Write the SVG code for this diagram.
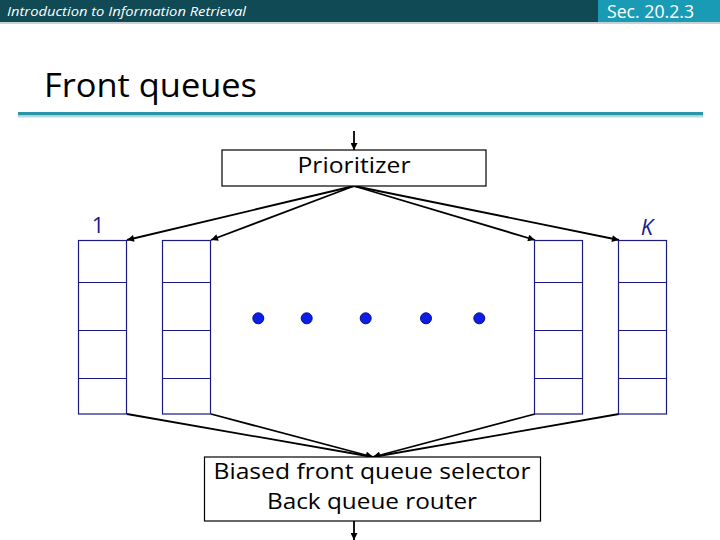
<svg xmlns="http://www.w3.org/2000/svg" width="720" height="540" viewBox="0 0 720 540">
<defs>
<marker id="ah" viewBox="0 0 10 10" refX="10" refY="5" markerWidth="9" markerHeight="7" markerUnits="userSpaceOnUse" orient="auto">
<path d="M0,0 L10,5 L0,10 z" fill="#000"/>
</marker>
</defs>
<style>
.q{fill:#fff;stroke:#1a1a80;stroke-width:1.2}
.dv{stroke:#1a1a80;stroke-width:1.2}
.box{fill:#fff;stroke:#000;stroke-width:1.2}
.lbl{font-family:"Open Sans","DejaVu Sans",sans-serif;font-size:22px;fill:#000;text-anchor:middle}
.c{stroke:#000;stroke-width:1.8;fill:none;marker-end:url(#ah)}
.dot{fill:#0a1ee6;stroke:#0a0a90;stroke-width:1}
</style>
<rect width="720" height="540" fill="#fff"/>
<g id="header">
<rect x="0" y="0" width="598" height="22" fill="#0f4a55"/>
<rect x="598" y="0" width="122" height="22" fill="#1a9bb5"/>
<rect x="0" y="22" width="720" height="2" fill="#c8d2d4"/>
<text x="7" y="16" font-family="Open Sans,DejaVu Sans,sans-serif" font-style="italic" font-size="13" fill="#fff" textLength="239" lengthAdjust="spacingAndGlyphs">Introduction to Information Retrieval</text>
<text x="607" y="18" font-family="Open Sans,DejaVu Sans,sans-serif" font-size="18" fill="#fff" textLength="87" lengthAdjust="spacingAndGlyphs">Sec. 20.2.3</text>
</g>
<g id="title">
<text x="44" y="97" font-family="Open Sans,DejaVu Sans,sans-serif" font-size="32" fill="#000" textLength="213" lengthAdjust="spacingAndGlyphs">Front queues</text>
<rect x="18" y="112" width="685" height="3.5" fill="#2a95a8"/>
<rect x="18" y="115.5" width="685" height="2" fill="#b5dbe2"/>
</g>
<g id="connectors">
<line class="c" x1="354" y1="131" x2="354" y2="150"/>
<line class="c" x1="354" y1="186" x2="127" y2="240"/>
<line class="c" x1="354" y1="186" x2="211" y2="240"/>
<line class="c" x1="354" y1="186" x2="535" y2="240"/>
<line class="c" x1="354" y1="186" x2="619" y2="240"/>
<line class="c" x1="127" y1="414" x2="373" y2="457"/>
<line class="c" x1="211" y1="414" x2="373" y2="457"/>
<line class="c" x1="535" y1="414" x2="373" y2="457"/>
<line class="c" x1="619" y1="414" x2="373" y2="457"/>
<line class="c" x1="354" y1="521" x2="354" y2="540"/>
</g>
<g id="prioritizer">
<rect class="box" x="222" y="150" width="264" height="36"/>
<text class="lbl" x="354" y="173" textLength="113" lengthAdjust="spacingAndGlyphs">Prioritizer</text>
</g>
<g id="queue1">
<rect class="q" x="78.5" y="240.5" width="48" height="173.5"/>
<line class="dv" x1="78.5" y1="282.5" x2="126.5" y2="282.5"/>
<line class="dv" x1="78.5" y1="330.5" x2="126.5" y2="330.5"/>
<line class="dv" x1="78.5" y1="378.5" x2="126.5" y2="378.5"/>
<text x="98" y="233" font-family="Open Sans,DejaVu Sans,sans-serif" font-size="22" fill="#1a1a8c" text-anchor="middle">1</text>
</g>
<g id="queue2">
<rect class="q" x="162.5" y="240.5" width="48" height="173.5"/>
<line class="dv" x1="162.5" y1="282.5" x2="210.5" y2="282.5"/>
<line class="dv" x1="162.5" y1="330.5" x2="210.5" y2="330.5"/>
<line class="dv" x1="162.5" y1="378.5" x2="210.5" y2="378.5"/>
</g>
<g id="queue3">
<rect class="q" x="534.5" y="240.5" width="48" height="173.5"/>
<line class="dv" x1="534.5" y1="282.5" x2="582.5" y2="282.5"/>
<line class="dv" x1="534.5" y1="330.5" x2="582.5" y2="330.5"/>
<line class="dv" x1="534.5" y1="378.5" x2="582.5" y2="378.5"/>
</g>
<g id="queue4">
<rect class="q" x="618.5" y="240.5" width="48" height="173.5"/>
<line class="dv" x1="618.5" y1="282.5" x2="666.5" y2="282.5"/>
<line class="dv" x1="618.5" y1="330.5" x2="666.5" y2="330.5"/>
<line class="dv" x1="618.5" y1="378.5" x2="666.5" y2="378.5"/>
<text x="647" y="235" font-family="Open Sans,DejaVu Sans,sans-serif" font-style="italic" font-size="22" fill="#1a1a8c" text-anchor="middle">K</text>
</g>
<g id="dots">
<circle class="dot" cx="258.3" cy="318.3" r="5.5"/>
<circle class="dot" cx="306.7" cy="318.3" r="5.5"/>
<circle class="dot" cx="365.7" cy="318.3" r="5.5"/>
<circle class="dot" cx="426" cy="318.3" r="5.5"/>
<circle class="dot" cx="479.3" cy="318.3" r="5.5"/>
</g>
<g id="selector">
<rect class="box" x="204.5" y="457" width="336" height="64"/>
<text class="lbl" x="372" y="479" textLength="317" lengthAdjust="spacingAndGlyphs">Biased front queue selector</text>
<text class="lbl" x="372" y="509" textLength="210" lengthAdjust="spacingAndGlyphs">Back queue router</text>
</g>
</svg>
